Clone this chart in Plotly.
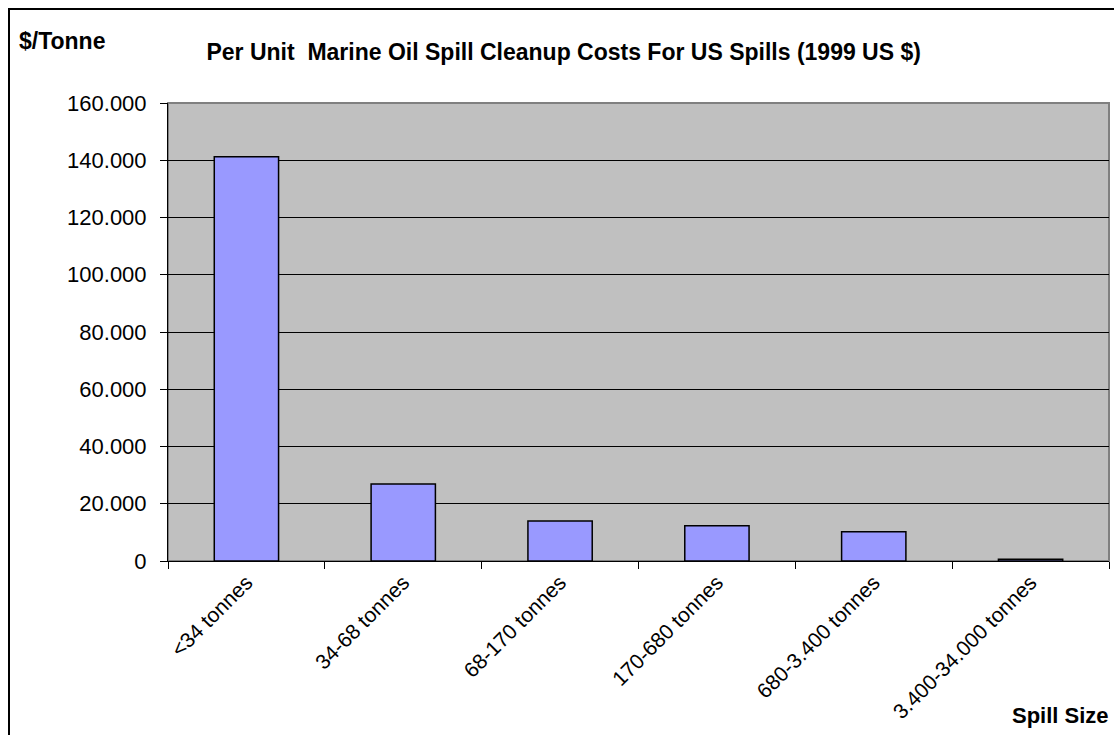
import plotly.graph_objects as go

# Spill size classes and per-tonne cleanup cost (1999 US $)
categories = [
    "<34 tonnes",
    "34-68 tonnes",
    "68-170 tonnes",
    "170-680 tonnes",
    "680-3.400 tonnes",
    "3.400-34.000 tonnes",
]
cost_per_tonne = [141200, 26900, 14000, 12300, 10200, 650]

y_ticks = [0, 20000, 40000, 60000, 80000, 100000, 120000, 140000, 160000]

W, H = 1114, 735
L, R, T, B = 168, 5, 103, 174
pw, ph = W - L - R, H - T - B


def px_x(x):
    return (x - L) / pw


def px_y(y):
    return (H - B - y) / ph


fig = go.Figure(
    go.Bar(
        x=categories,
        y=cost_per_tonne,
        width=0.41,
        marker=dict(color="#9999FF", line=dict(color="black", width=1.5)),
    )
)

fig.update_layout(
    width=W,
    height=H,
    margin=dict(l=L, r=R, t=T, b=B),
    paper_bgcolor="white",
    plot_bgcolor="#C0C0C0",
    separators=",.",
    font=dict(family="Liberation Sans, Arial, sans-serif", color="black"),
    showlegend=False,
    title=dict(
        text="<b>Per Unit  Marine Oil Spill Cleanup Costs For US Spills (1999 US $)</b>",
        x=0.506,
        xref="container",
        xanchor="center",
        y=1 - 52 / H,
        yref="container",
        yanchor="middle",
        font=dict(size=23, color="black"),
    ),
    xaxis=dict(
        showline=True,
        linecolor="black",
        linewidth=1,
        ticks="outside",
        tickson="boundaries",
        ticklen=7,
        tickcolor="black",
        tickangle=-45,
        tickfont=dict(size=21),
        showgrid=False,
        zeroline=False,
    ),
    yaxis=dict(
        range=[0, 160000],
        tickvals=y_ticks,
        tickformat=",",
        showline=True,
        linecolor="black",
        linewidth=1,
        ticks="outside",
        ticklen=7,
        tickcolor="black",
        tickfont=dict(size=22),
        ticklabelstandoff=9,
        showgrid=True,
        gridcolor="black",
        gridwidth=1,
        zeroline=False,
    ),
    shapes=[
        # plot-area frame (top and right edges)
        dict(
            type="rect", xref="paper", yref="paper",
            x0=0, x1=1, y0=0, y1=1,
            line=dict(color="#808080", width=2),
            layer="below",
        ),
        # outer chart frame
        dict(
            type="rect", xref="paper", yref="paper",
            x0=px_x(9), x1=px_x(W + 10), y0=px_y(H + 10), y1=px_y(9),
            line=dict(color="black", width=2),
        ),
    ],
    annotations=[
        dict(
            text="<b>$/Tonne</b>",
            xref="paper", yref="paper",
            x=px_x(17), y=px_y(41),
            xanchor="left", yanchor="middle",
            showarrow=False,
            font=dict(size=23, color="black"),
        ),
        dict(
            text="<b>Spill Size</b>",
            xref="paper", yref="paper",
            x=px_x(1111), y=px_y(715),
            xanchor="right", yanchor="middle",
            showarrow=False,
            font=dict(size=22, color="black"),
        ),
    ],
)

fig.write_html("out.html")
